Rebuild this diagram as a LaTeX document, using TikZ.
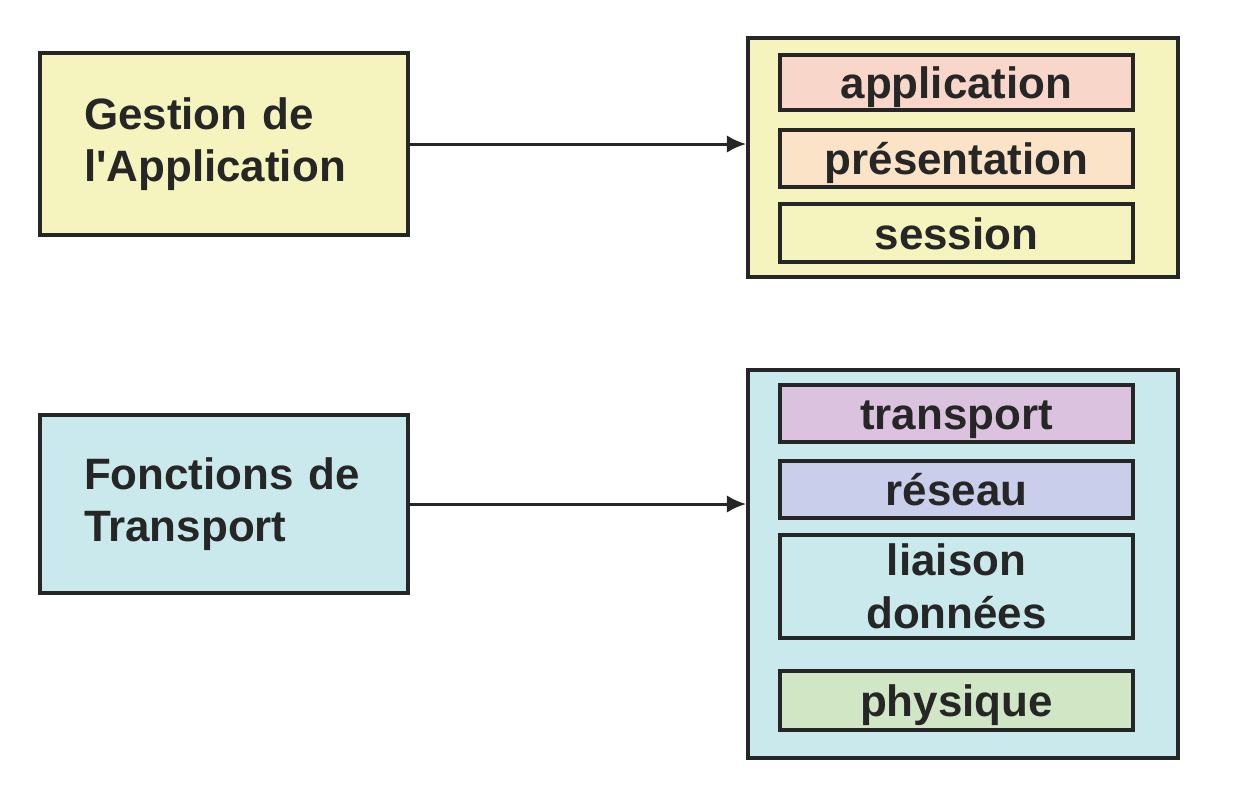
\documentclass[tikz,border=0pt]{standalone}
\usepackage{fontspec}
\setmainfont{Liberation Sans}
\usepackage{tikz}
\usetikzlibrary{arrows}
\usetikzlibrary{arrows.meta}
\usetikzlibrary{positioning}
\definecolor{jaune}{HTML}{F5F4BE}
\definecolor{cyan}{HTML}{CAE9EC}
\definecolor{saumon}{HTML}{F8D6C9}
\definecolor{peche}{HTML}{FBE3C8}
\definecolor{mauve}{HTML}{DBC2DE}
\definecolor{lavande}{HTML}{C9CEEB}
\definecolor{vert}{HTML}{D0E6C5}
\definecolor{trait}{HTML}{262626}

\begin{document}
\begin{tikzpicture}[x=0.02cm,y=-0.02cm,
  police/.style={font=\bfseries\fontsize{25}{30}\selectfont,text=trait},
  boite/.style={draw=trait,line width=2.2pt,police,align=left,text width=5.6cm,minimum width=7.36cm},
  pile/.style={draw=trait,line width=2.2pt,minimum width=8.6cm},
  double/.style={draw=trait,line width=2.2pt,police,align=center,inner sep=0pt,minimum width=7.06cm},
  couche/.style={double,text height=18.6pt,text depth=0pt},
  fleche/.style={-{Latex[length=11pt,width=10pt]},line width=1.7pt,draw=trait}]
\useasboundingbox (0,0) rectangle (1254,792);
% blocs de gauche
\node[boite,fill=jaune,minimum height=3.64cm] (gestion) at (224,144) {Gestion de\\l\textquotesingle Application};
\node[boite,fill=cyan,minimum height=3.56cm] (fonctions) at (224,504) {Fonctions de\\Transport};
% piles de couches
\node[pile,fill=jaune,minimum height=4.78cm] (haut) at (963,157.5) {};
\node[pile,fill=cyan,minimum height=7.76cm] (bas) at (963,564) {};
\node[couche,fill=saumon,minimum height=1.1cm] (application) at (956.5,82.5) {application};
\node[couche,fill=peche,minimum height=1.14cm] (presentation) at (956.5,158.5) {présentation};
\node[couche,fill=jaune,minimum height=1.16cm] (session) at (956.5,233) {session};
\node[couche,fill=mauve,minimum height=1.14cm] (transport) at (956.5,413.5) {transport};
\node[couche,fill=lavande,minimum height=1.14cm] (reseau) at (956.5,489.5) {réseau};
\node[double,fill=cyan,minimum height=2.06cm] (liaison) at (956.5,586.5) {liaison\\données};
\node[couche,fill=vert,minimum height=1.18cm] (physique) at (956.5,700.5) {physique};
% fleches
\draw[fleche] (gestion.east) -- (gestion.east -| haut.west);
\draw[fleche] (fonctions.east) -- (fonctions.east -| bas.west);
\end{tikzpicture}
\end{document}
